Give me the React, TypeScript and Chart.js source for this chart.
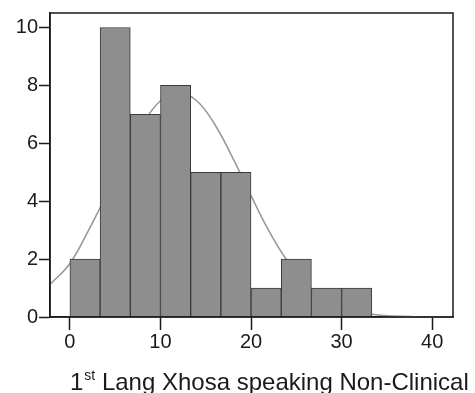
import React, { useEffect, useRef } from "react";
import { Chart, registerables } from "chart.js";

Chart.register(...registerables);

// Histogram bins (centres, width 10/3) and counts
const binCenters = [1.667, 5, 8.333, 11.667, 15, 18.333, 21.667, 25, 28.333, 31.667];
const binCounts = [2, 10, 7, 8, 5, 5, 1, 2, 1, 1];

// Normal curve
const curveX = [-2.2, 0, 2, 4, 6, 8, 10, 12, 14, 16, 18, 20, 22, 24, 26, 28, 30, 32, 34, 36, 38, 40, 42.3];
const curveY = [1.12, 1.85, 2.96, 4.19, 5.48, 6.65, 7.47, 7.76, 7.47, 6.65, 5.48, 4.19, 2.96, 1.94, 1.17, 0.66, 0.34, 0.16, 0.07, 0.03, 0.01, 0, 0];

const xTicks = [0, 10, 20, 30, 40];
const yTicks = [0, 2, 4, 6, 8, 10];

const titleMain = "1";
const titleSup = "st";
const titleRest = " Lang Xhosa speaking Non-Clinical";

const FONT = "'Liberation Sans', Arial, sans-serif";

export default function App() {
  const ref = useRef<HTMLCanvasElement | null>(null);

  useEffect(() => {
    document.body.style.margin = "0";
    const canvas = ref.current;
    if (!canvas) return;

    const framePlugin = {
      id: "frame",
      afterDraw(chart: any) {
        const { ctx, chartArea } = chart;
        ctx.save();
        ctx.strokeStyle = "#1a1a1a";
        ctx.lineWidth = 1.5;
        ctx.strokeRect(chartArea.left, chartArea.top, chartArea.right - chartArea.left, chartArea.bottom - chartArea.top);
        // axis title with superscript
        ctx.fillStyle = "#1a1a1a";
        ctx.textBaseline = "alphabetic";
        ctx.textAlign = "left";
        let x = 70;
        const base = 390;
        ctx.font = `24px ${FONT}`;
        ctx.fillText(titleMain, x, base);
        x += ctx.measureText(titleMain).width;
        ctx.font = `14px ${FONT}`;
        ctx.fillText(titleSup, x + 1, base - 10);
        x += ctx.measureText(titleSup).width + 1;
        ctx.font = `24px ${FONT}`;
        ctx.fillText(titleRest, x, base);
        ctx.restore();
      },
    };

    const chart = new Chart(canvas, {
      type: "bar",
      data: {
        datasets: [
          {
            type: "bar",
            data: binCenters.map((c, i) => ({ x: c, y: binCounts[i] })),
            backgroundColor: "#8e8e8e",
            borderColor: "#3a3a3a",
            borderWidth: 1,
            barPercentage: 1,
            categoryPercentage: 1,
            order: 1,
          } as any,
          {
            type: "line",
            data: curveX.map((c, i) => ({ x: c, y: curveY[i] })),
            borderColor: "#9a9a9a",
            borderWidth: 1.6,
            pointRadius: 0,
            tension: 0.4,
            fill: false,
            order: 2,
          } as any,
        ],
      },
      options: {
        animation: false,
        responsive: false,
        layout: { padding: { top: 12, right: 22, left: 0, bottom: 0 } },
        plugins: { legend: { display: false }, tooltip: { enabled: false } },
        scales: {
          x: {
            type: "linear",
            min: -2.2,
            max: 42.3,
            offset: false,
            afterBuildTicks: (s: any) => {
              s.ticks = xTicks.map((v) => ({ value: v }));
            },
            afterFit: (s: any) => {
              s.height = 76;
            },
            grid: { offset: false, drawOnChartArea: false, tickLength: 13, tickColor: "#1a1a1a", tickWidth: 1.5 },
            border: { display: true, color: "#1a1a1a", width: 1.5 },
            ticks: { color: "#1a1a1a", font: { family: FONT, size: 20 }, padding: 0, maxRotation: 0 },
          },
          y: {
            type: "linear",
            min: 0,
            max: 10.5,
            afterBuildTicks: (s: any) => {
              s.ticks = yTicks.map((v) => ({ value: v }));
            },
            afterFit: (s: any) => {
              s.width = 50;
            },
            grid: { drawOnChartArea: false, tickLength: 11, tickColor: "#1a1a1a", tickWidth: 1.5 },
            border: { display: true, color: "#1a1a1a", width: 1.5 },
            ticks: { color: "#1a1a1a", font: { family: FONT, size: 20 }, padding: 1 },
          },
        },
      } as any,
      plugins: [framePlugin],
    });

    return () => chart.destroy();
  }, []);

  return (
    <div style={{ width: 475, height: 393, background: "#fff" }}>
      <canvas ref={ref} width={475} height={393} style={{ display: "block" }} />
    </div>
  );
}
